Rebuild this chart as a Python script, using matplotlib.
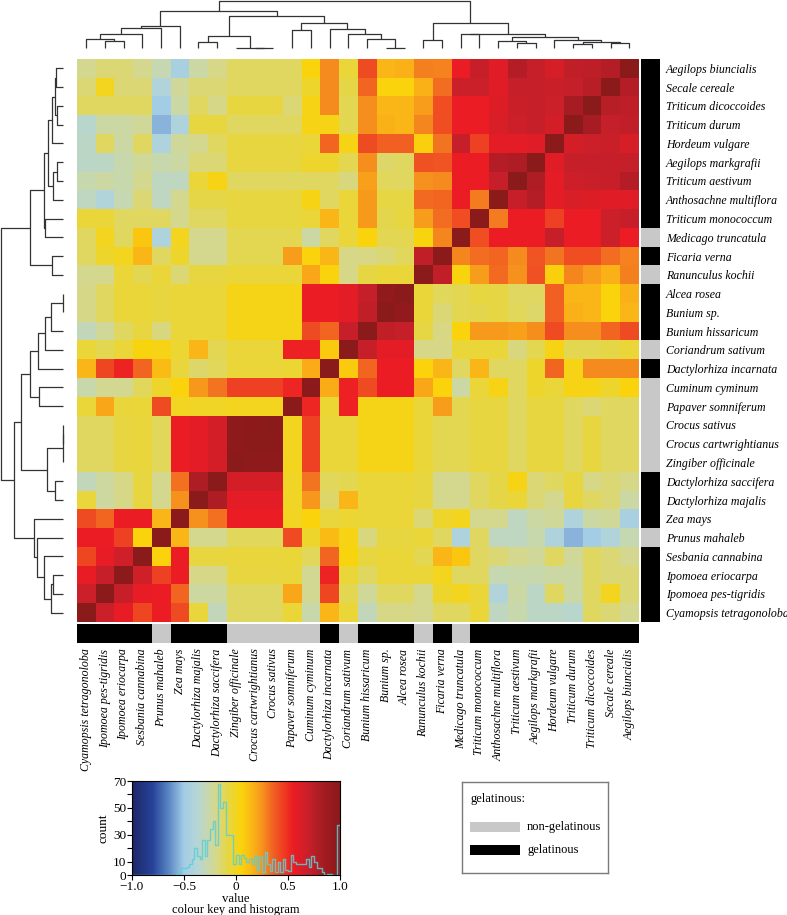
import numpy as np
import matplotlib
matplotlib.use('Agg')
import matplotlib.pyplot as plt
from matplotlib.colors import LinearSegmentedColormap, ListedColormap
from matplotlib.patches import Rectangle

# ---------------- data ----------------
species = [
    "Aegilops biuncialis", "Secale cereale", "Triticum dicoccoides", "Triticum durum",
    "Hordeum vulgare", "Aegilops markgrafii", "Triticum aestivum", "Anthosachne multiflora",
    "Triticum monococcum", "Medicago truncatula", "Ficaria verna", "Ranunculus kochii",
    "Alcea rosea", "Bunium sp.", "Bunium hissaricum", "Coriandrum sativum",
    "Dactylorhiza incarnata", "Cuminum cyminum", "Papaver somniferum", "Crocus sativus",
    "Crocus cartwrightianus", "Zingiber officinale", "Dactylorhiza saccifera",
    "Dactylorhiza majalis", "Zea mays", "Prunus mahaleb", "Sesbania cannabina",
    "Ipomoea eriocarpa", "Ipomoea pes-tigridis", "Cyamopsis tetragonoloba",
]
# columns are the same species in reverse order
col_species = species[::-1]

# 1 = gelatinous, 0 = non-gelatinous (row order)
gelatinous = [1, 1, 1, 1, 1, 1, 1, 1, 1, 0, 1, 0, 1, 1, 1, 0, 1,
              0, 0, 0, 0, 0, 1, 1, 1, 0, 1, 1, 1, 1]

# correlation values as displayed: rows 0-14, all 30 columns
corr_top = [
    [-0.20, -0.15, -0.15, -0.20, -0.28, -0.45, -0.25, -0.18, -0.12, -0.12, -0.12, -0.12, 0.05, 0.27, -0.05,
     0.42, 0.15, 0.15, 0.27, 0.27, 0.55, 0.70, 0.60, 0.78, 0.70, 0.62, 0.72, 0.76, 0.78, 1.00],
    [-0.15, 0.00, -0.15, -0.15, -0.40, -0.22, -0.15, -0.15, -0.12, -0.12, -0.12, -0.12, -0.03, 0.27, -0.08,
     0.35, 0.05, 0.05, 0.15, 0.33, 0.68, 0.68, 0.60, 0.70, 0.70, 0.68, 0.70, 0.75, 1.00, 0.78],
    [-0.12, -0.12, -0.12, -0.12, -0.50, -0.25, -0.12, -0.18, -0.07, -0.07, -0.07, -0.15, 0.03, 0.27, -0.10,
     0.25, 0.15, 0.15, 0.25, 0.40, 0.55, 0.55, 0.62, 0.68, 0.68, 0.68, 0.82, 1.00, 0.78, 0.72],
    [-0.35, -0.25, -0.25, -0.22, -0.55, -0.42, -0.07, -0.07, -0.12, -0.12, -0.12, -0.12, 0.03, 0.03, -0.10,
     0.25, 0.15, 0.15, 0.28, 0.42, 0.55, 0.55, 0.65, 0.65, 0.68, 0.62, 1.00, 0.85, 0.72, 0.72],
    [-0.33, -0.12, -0.25, -0.12, -0.42, -0.22, -0.20, -0.12, -0.07, -0.07, -0.07, -0.07, -0.05, 0.35, 0.03,
     0.42, 0.37, 0.37, 0.05, 0.35, 0.70, 0.45, 0.58, 0.58, 0.60, 1.00, 0.68, 0.68, 0.70, 0.65],
    [-0.33, -0.33, -0.27, -0.22, -0.27, -0.25, -0.15, -0.15, -0.07, -0.07, -0.07, -0.07, -0.03, -0.03, -0.10,
     0.27, -0.10, -0.10, 0.42, 0.42, 0.55, 0.55, 0.78, 0.80, 1.00, 0.60, 0.72, 0.72, 0.70, 0.72],
    [-0.27, -0.25, -0.27, -0.20, -0.32, -0.32, -0.05, 0.03, -0.12, -0.12, -0.12, -0.12, -0.12, -0.12, -0.17,
     0.25, -0.15, -0.15, 0.25, 0.27, 0.55, 0.55, 0.70, 1.00, 0.80, 0.58, 0.70, 0.70, 0.70, 0.78],
    [-0.32, -0.40, -0.28, -0.15, -0.32, -0.20, -0.08, -0.08, -0.07, -0.07, -0.07, -0.07, 0.03, -0.12, -0.05,
     0.28, -0.10, -0.10, 0.35, 0.35, 0.55, 0.30, 1.00, 0.70, 0.78, 0.58, 0.60, 0.60, 0.60, 0.60],
    [-0.05, -0.05, -0.12, -0.12, -0.12, -0.20, -0.12, -0.12, -0.07, -0.07, -0.07, -0.07, -0.05, 0.15, -0.05,
     0.28, -0.08, -0.08, 0.25, 0.35, 0.42, 1.00, 0.30, 0.55, 0.55, 0.45, 0.55, 0.55, 0.68, 0.70],
    [-0.12, 0.00, -0.12, 0.10, -0.42, 0.00, -0.20, -0.20, -0.10, -0.10, -0.10, -0.10, -0.25, -0.12, -0.05,
     0.05, -0.10, -0.10, 0.03, 0.30, 1.00, 0.40, 0.55, 0.55, 0.55, 0.70, 0.55, 0.55, 0.68, 0.55],
    [-0.12, -0.03, 0.00, 0.15, -0.12, -0.03, -0.20, -0.20, -0.10, -0.10, -0.10, 0.22, 0.05, 0.15, -0.18,
     -0.20, -0.12, -0.12, 0.72, 1.00, 0.25, 0.32, 0.35, 0.27, 0.37, 0.28, 0.40, 0.42, 0.33, 0.30],
    [-0.20, -0.20, -0.05, -0.10, -0.05, -0.15, -0.07, -0.07, -0.05, -0.05, -0.05, -0.05, 0.20, 0.05, -0.18,
     -0.10, -0.05, -0.05, 1.00, 0.72, 0.05, 0.20, 0.33, 0.25, 0.38, 0.08, 0.28, 0.20, 0.18, 0.32],
    [-0.18, -0.12, -0.05, -0.05, -0.07, -0.05, -0.05, -0.05, 0.02, 0.02, 0.02, 0.02, 0.55, 0.55, 0.58,
     0.70, 0.95, 1.00, -0.05, -0.10, -0.10, -0.05, -0.05, -0.10, -0.15, 0.35, 0.15, 0.15, 0.05, 0.18],
    [-0.18, -0.12, -0.05, -0.05, -0.07, -0.05, -0.05, -0.05, 0.02, 0.02, 0.02, 0.02, 0.55, 0.55, 0.58,
     0.72, 1.00, 0.95, -0.05, -0.18, -0.10, -0.10, -0.05, -0.08, -0.18, 0.35, 0.18, 0.15, 0.05, 0.15],
    [-0.30, -0.22, -0.12, -0.07, -0.17, -0.05, -0.05, -0.05, 0.02, 0.02, 0.02, 0.02, 0.42, 0.35, 0.70,
     1.00, 0.72, 0.72, -0.05, -0.15, 0.05, 0.18, 0.18, 0.18, 0.25, 0.42, 0.28, 0.28, 0.35, 0.42],
]
# rows 15-29, columns 0-14 (rest follows from symmetry)
corr_bottom = [
    [-0.05, -0.10, -0.05, 0.05, 0.05, -0.03, 0.15, -0.10, -0.05, -0.05, -0.05, 0.55, 0.55, 0.08, 1.00],
    [0.15, 0.42, 0.55, 0.35, 0.15, -0.05, -0.12, -0.12, -0.05, -0.05, -0.05, -0.05, 0.15, 1.00, 0.08],
    [-0.25, -0.22, -0.22, -0.12, -0.03, 0.05, 0.22, 0.33, 0.45, 0.45, 0.45, 0.52, 1.00, 0.22, 0.52],
    [-0.05, 0.22, -0.03, -0.03, 0.42, 0.02, 0.03, 0.03, 0.03, 0.03, 0.03, 1.00, 0.52, -0.03, 0.52],
    [-0.12, -0.12, -0.05, -0.05, -0.10, 0.55, 0.58, 0.65, 0.97, 0.98, 1.00, -0.03, 0.45, -0.05, -0.05],
    [-0.12, -0.12, -0.05, -0.05, -0.10, 0.55, 0.58, 0.65, 0.97, 1.00, 0.98, -0.03, 0.45, -0.05, -0.05],
    [-0.12, -0.12, -0.05, -0.05, -0.10, 0.55, 0.58, 0.65, 1.00, 0.97, 0.97, -0.03, 0.45, -0.05, -0.05],
    [-0.30, -0.22, -0.18, -0.07, -0.20, 0.32, 0.80, 1.00, 0.65, 0.65, 0.65, -0.05, 0.30, -0.10, -0.10],
    [-0.07, -0.22, -0.18, -0.07, -0.20, 0.25, 1.00, 0.80, 0.58, 0.58, 0.58, -0.05, 0.25, -0.15, 0.15],
    [0.42, 0.35, 0.55, 0.55, 0.15, 1.00, 0.25, 0.33, 0.55, 0.55, 0.55, -0.03, 0.05, -0.07, -0.05],
    [0.55, 0.55, 0.45, 0.05, 1.00, 0.15, -0.20, -0.20, -0.12, -0.12, -0.12, 0.42, -0.03, 0.12, 0.00],
    [0.45, 0.55, 0.65, 1.00, 0.05, 0.55, -0.07, -0.07, -0.07, -0.07, -0.07, -0.07, -0.10, 0.35, 0.03],
    [0.58, 0.70, 1.00, 0.68, 0.45, 0.55, -0.18, -0.18, -0.08, -0.08, -0.08, -0.08, -0.20, 0.50, -0.05],
    [0.68, 1.00, 0.70, 0.58, 0.55, 0.35, -0.25, -0.25, -0.12, -0.12, -0.12, 0.18, -0.20, 0.45, -0.10],
    [1.00, 0.68, 0.55, 0.42, 0.55, 0.42, -0.05, -0.30, -0.12, -0.12, -0.12, -0.05, -0.28, 0.15, -0.05],
]

# clustering tree (column indices 0-29, new clusters numbered from 30), merge heights
tree_merges = [
    [9, 10, 0.3], [8, 30, 0.5], [6, 7, 6.0], [32, 31, 12.6],
    [1, 2, 7.6], [0, 34, 9.3], [35, 3, 14.6], [36, 4, 20.0], [37, 5, 22.0],
    [11, 12, 18.3], [16, 17, 0.4], [15, 40, 9.6], [14, 41, 14.3], [13, 42, 19.6],
    [39, 43, 25.6], [33, 44, 32.0], [38, 45, 37.3],
    [18, 19, 8.3], [20, 21, 14.0], [23, 24, 5.0], [22, 49, 7.6], [26, 27, 4.6],
    [28, 29, 5.3], [51, 52, 6.6], [25, 53, 8.6], [50, 54, 11.6], [48, 55, 14.5],
    [47, 56, 25.6], [46, 57, 47.8],
]

# histogram of the colour key: 80 bins of width 0.025 from -1 to 1 (read from the key)
hist_counts = [
    0, 0, 0, 0, 0, 0, 0, 0, 0, 0, 0, 0, 0, 0, 0, 0, 0,
    1, 2, 5, 5, 6, 8, 12, 20, 14, 12, 26, 14, 26, 34, 40, 22, 68, 50, 54, 30, 30, 30, 8,
    15, 8, 15, 13, 10, 12, 8, 14, 4, 14, 2, 17, 8, 3, 12, 2, 10, 2, 12, 4,
    3, 15, 10, 8, 8, 8, 8, 12, 6, 14, 10, 5, 5, 2, 0, 1, 1, 0, 0, 37,
]

key_ticks = [-1.0, -0.5, 0.0, 0.5, 1.0]
key_tick_labels = ["\u22121.0", "\u22120.5", "0", "0.5", "1.0"]
count_ticks = [0, 10, 20, 30, 40, 50, 60, 70]
count_labels = ["0", "10", "", "30", "", "50", "", "70"]

# ---------------- setup ----------------
W, H = 787, 915
fig = plt.figure(figsize=(W / 100, H / 100), dpi=100)
serif = ['Liberation Serif', 'DejaVu Serif']


def add_ax(x0, y0, x1, y1):
    return fig.add_axes([x0 / W, 1 - y1 / H, (x1 - x0) / W, (y1 - y0) / H])


stops = [(-1.0, '#1d2768'), (-0.8, '#27449a'), (-0.65, '#5a86c4'), (-0.5, '#a3cde6'),
         (-0.38, '#b4d6d8'), (-0.28, '#c6d8b2'), (-0.18, '#d8d886'), (-0.1, '#e3d752'),
         (-0.03, '#eed62e'), (0.05, '#fad40c'), (0.15, '#fbb816'), (0.25, '#f7941d'),
         (0.35, '#f26522'), (0.45, '#ef4123'), (0.55, '#ed1c24'), (0.7, '#c8202a'),
         (0.85, '#a31c22'), (1.0, '#8b1a1a')]
cmap = LinearSegmentedColormap.from_list('key', [((v + 1) / 2, c) for v, c in stops])

n = len(species)
Hm = np.full((n, n), np.nan)
Hm[:15, :] = np.array(corr_top)
Hm[15:, :15] = np.array(corr_bottom)
for i in range(15, n):
    for j in range(15, n):
        Hm[i, j] = Hm[n - 1 - j, n - 1 - i]
Hm = (Hm + Hm[::-1, ::-1].T) / 2

HX0, HX1, HY0, HY1 = 76.7, 638.7, 59.0, 622.0

# heatmap
axh = add_ax(HX0, HY0, HX1, HY1)
axh.imshow(Hm, cmap=cmap, vmin=-1, vmax=1, aspect='auto', interpolation='nearest',
           extent=(0, n, n, 0))
axh.set_axis_off()

gcmap = ListedColormap(['#c8c8c8', '#000000'])
# row side colours
axr = add_ax(641, HY0, 660, HY1)
axr.imshow(np.array(gelatinous)[:, None], cmap=gcmap, vmin=0, vmax=1, aspect='auto',
           interpolation='nearest', extent=(0, 1, n, 0))
axr.set_xticks([])
axr.set_yticks(np.arange(n) + 0.5)
axr.yaxis.tick_right()
axr.set_yticklabels(species, family=serif, style='italic', fontsize=8.6)
axr.tick_params(axis='y', length=0, pad=4.2)
for s in axr.spines.values():
    s.set_visible(False)

# column side colours
axc = add_ax(HX0, 624, HX1, 643)
axc.imshow(np.array(gelatinous[::-1])[None, :], cmap=gcmap, vmin=0, vmax=1, aspect='auto',
           interpolation='nearest', extent=(0, n, 1, 0))
axc.set_yticks([])
axc.set_xticks(np.arange(n) + 0.5)
axc.set_xticklabels(col_species, family=serif, style='italic', fontsize=8.6, rotation=90)
axc.tick_params(axis='x', length=0, pad=4)
for s in axc.spines.values():
    s.set_visible(False)

# dendrograms
pos = {i: i + 0.5 for i in range(n)}
hgt = {i: 0.0 for i in range(n)}
segs = []
for k, (a, b, h) in enumerate(tree_merges):
    xa, xb = pos[a], pos[b]
    segs.append(([xa, xa, xb, xb], [hgt[a], h, h, hgt[b]]))
    pos[n + k] = (xa + xb) / 2
    hgt[n + k] = h
root_h = tree_merges[-1][2]

axt = add_ax(HX0, 0.5, HX1, 48.3)
for xs, ys in segs:
    axt.plot(xs, ys, color='#333333', lw=0.9, clip_on=False, solid_capstyle='butt')
axt.set_xlim(0, n)
axt.set_ylim(0, root_h)
axt.set_axis_off()

axl = add_ax(0.5, HY0, 63.3, HY1)
for xs, ys in segs:
    axl.plot(ys, [n - x for x in xs], color='#333333', lw=0.9, clip_on=False,
             solid_capstyle='butt')
axl.set_ylim(n, 0)
axl.set_xlim(root_h, 0)
axl.set_axis_off()

# colour key with histogram
axk = add_ax(132, 781, 340, 875)
grad = np.linspace(-1, 1, 512)[None, :]
axk.imshow(grad, cmap=cmap, vmin=-1, vmax=1, aspect='auto', extent=(-1, 1, 0, 70),
           interpolation='bilinear')
bins = np.linspace(-1, 1, len(hist_counts) + 1)
counts = np.array(hist_counts)
sx = np.repeat(bins, 2)[1:-1]
sy = np.repeat(counts, 2)
axk.plot(np.concatenate([[bins[0]], sx, [bins[-1]]]), np.concatenate([[0], sy, [0]]),
         color='#5ccfd8', lw=1.0, alpha=0.85, clip_on=True)
axk.set_xlim(-1, 1)
axk.set_ylim(0, 70)
axk.set_xticks(key_ticks)
axk.set_xticklabels(key_tick_labels, family=serif, fontsize=9.5)
axk.set_yticks(count_ticks)
axk.set_yticklabels(count_labels, family=serif, fontsize=9.5)
axk.tick_params(length=3.5, width=0.8, pad=0.8)
axk.set_ylabel('count', family=serif, fontsize=9.5, labelpad=2)
axk.set_xlabel('value', family=serif, fontsize=9.2, labelpad=0)
for s in axk.spines.values():
    s.set_linewidth(0.8)
fig.text(236 / W, 1 - 909.5 / H, 'colour key and histogram', family=serif, fontsize=9.0,
         ha='center', va='center')

# legend box
axg = add_ax(462, 782, 608, 873)
axg.set_xlim(462, 608)
axg.set_ylim(873, 782)
axg.set_xticks([])
axg.set_yticks([])
for s in axg.spines.values():
    s.set_color('#7a7a7a')
    s.set_linewidth(1.0)
axg.text(470, 799, 'gelatinous:', family=serif, fontsize=9, va='center', ha='left')
axg.add_patch(Rectangle((470, 822), 50, 10, color='#c8c8c8', lw=0))
axg.text(527, 827, 'non-gelatinous', family=serif, fontsize=9, va='center', ha='left')
axg.add_patch(Rectangle((470, 845), 50, 10, color='#000000', lw=0))
axg.text(527, 850, 'gelatinous', family=serif, fontsize=9, va='center', ha='left')

fig.savefig('out.png', dpi=100)
